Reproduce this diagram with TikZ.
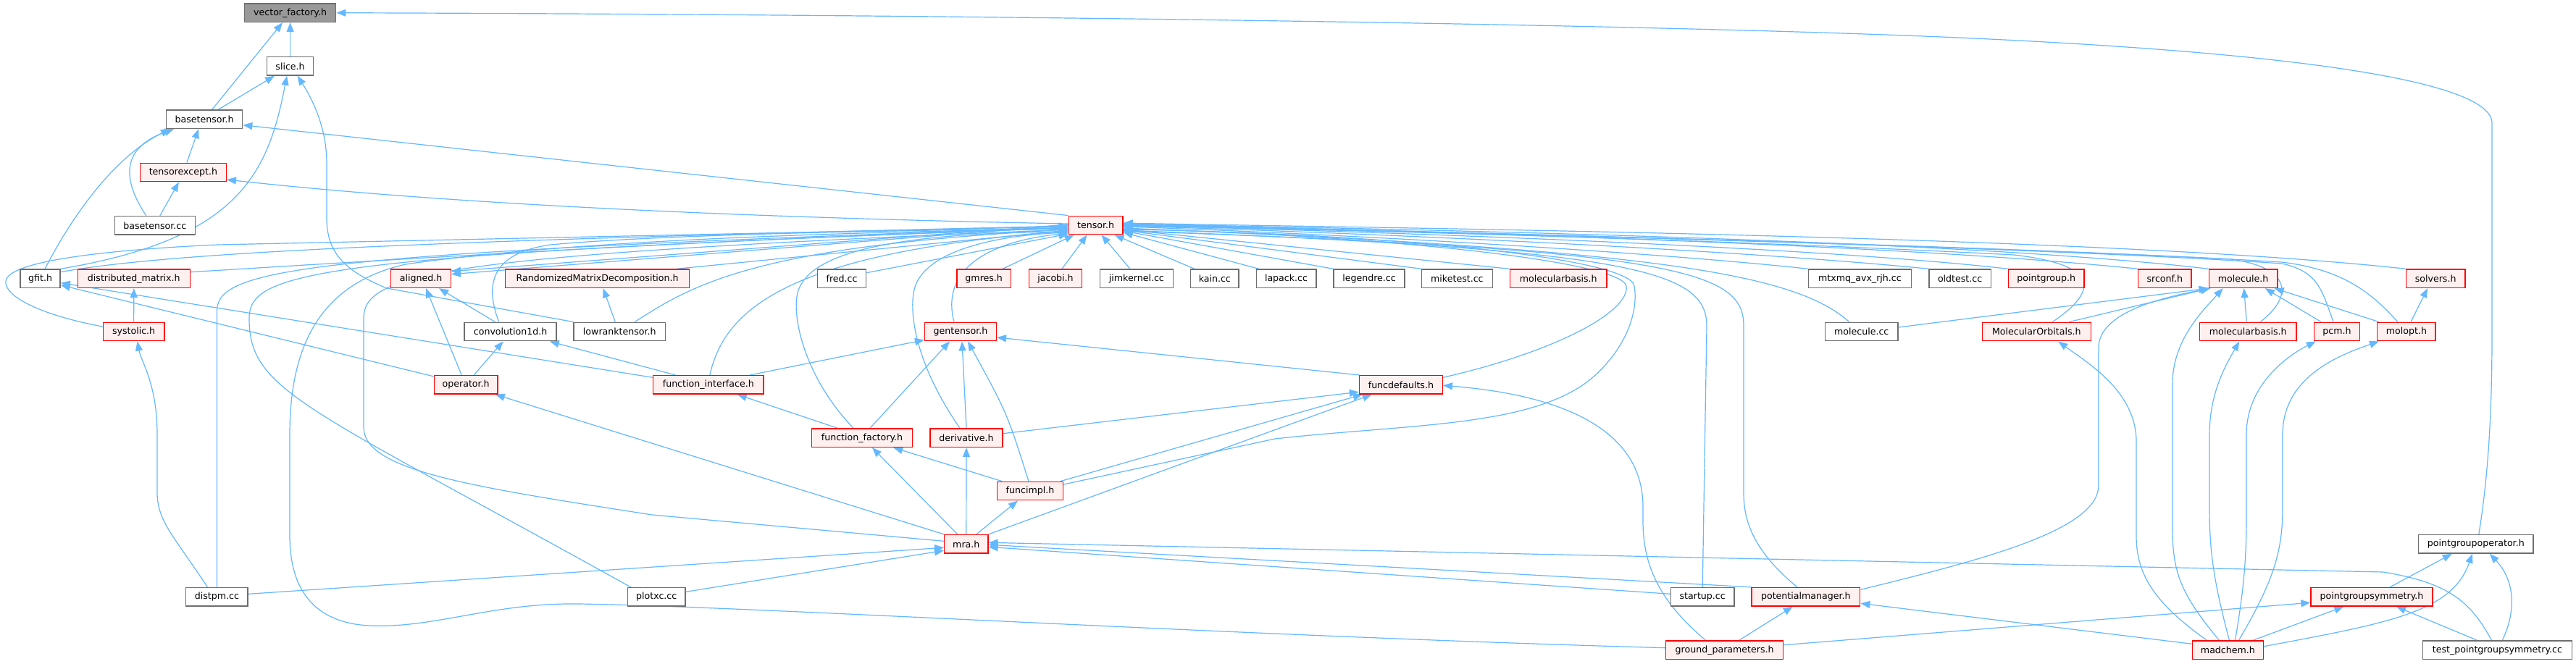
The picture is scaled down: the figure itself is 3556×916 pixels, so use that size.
\documentclass[tikz,border=0pt]{standalone}
\usepackage{fontspec}
\newfontfamily\dvs{DejaVu Sans}
\usetikzlibrary{arrows.meta,calc}
\definecolor{eblue}{HTML}{63B8FF}
\definecolor{nred}{HTML}{FF0000}
\definecolor{nfill}{HTML}{FFF0F0}
\definecolor{ngray}{HTML}{6E6E6E}
\definecolor{rootfill}{HTML}{999999}
\pgfdeclarelayer{bg}
\pgfsetlayers{bg,main}
\tikzset{
 base/.style={rectangle, draw, line width=1.4pt, minimum height=25.5pt, inner sep=0pt, font=\dvs\fontsize{12.6}{14}\selectfont, text=black},
 rnode/.style={base, draw=nred, fill=nfill},
 gnode/.style={base, draw=ngray, fill=white},
 root/.style={base, draw=ngray, fill=rootfill},
 edge/.style={draw=eblue, line width=1.2pt, -{Triangle[length=13pt,width=10pt]}},
}
\newcommand\dnode[6]{\node[#1,minimum width=#5pt] (#2) at (#3,#4) {#6};}
\begin{document}
\begin{tikzpicture}[x=1pt,y=-1pt]
\useasboundingbox (0,0) rectangle (3556,916);
% nodes
\dnode{root}{vf}{400.6}{17.7}{126.3}{vector\_factory.h}
\dnode{gnode}{slice}{400.6}{91.3}{64.3}{slice.h}
\dnode{gnode}{bt}{282.1}{164.7}{105}{basetensor.h}
\dnode{rnode}{te}{252.9}{238}{118.8}{tensorexcept.h}
\dnode{gnode}{btcc}{213.8}{311.3}{110.8}{basetensor.cc}
\dnode{rnode}{tensor}{1512.6}{311}{74.6}{tensor.h}
\dnode{gnode}{gfit}{55.6}{384.7}{55.1}{gfit.h}
\dnode{rnode}{dm}{184.8}{384.7}{155}{distributed\_matrix.h}
\dnode{rnode}{aligned}{581}{384.7}{82.7}{aligned.h}
\dnode{rnode}{rmd}{824.6}{384.7}{254.3}{RandomizedMatrixDecomposition.h}
\dnode{gnode}{fred}{1162.1}{384.7}{67.1}{fred.cc}
\dnode{rnode}{gmres}{1358.2}{384.7}{74.6}{gmres.h}
\dnode{rnode}{jacobi}{1457}{384.7}{73.5}{jacobi.h}
\dnode{gnode}{jim}{1568.9}{384.7}{101}{jimkernel.cc}
\dnode{gnode}{kain}{1676.8}{384.7}{66.6}{kain.cc}
\dnode{gnode}{lapack}{1775.5}{384.7}{82.6}{lapack.cc}
\dnode{gnode}{legendre}{1890}{384.7}{98.1}{legendre.cc}
\dnode{gnode}{miketest}{2011.4}{384.7}{97.6}{miketest.cc}
\dnode{rnode}{mbA}{2151.2}{384.7}{133.8}{molecularbasis.h}
\dnode{gnode}{mtxmq}{2567.4}{384.7}{141.8}{mtxmq\_avx\_rjh.cc}
\dnode{gnode}{oldtest}{2705.6}{384.7}{85.5}{oldtest.cc}
\dnode{rnode}{pg}{2824.7}{384.7}{104.5}{pointgroup.h}
\dnode{rnode}{srconf}{2988.3}{384.7}{73.5}{srconf.h}
\dnode{rnode}{mol}{3096.6}{384.7}{94.8}{molecule.h}
\dnode{rnode}{solvers}{3362.1}{384.7}{81.6}{solvers.h}
\dnode{rnode}{systolic}{184.6}{458}{84.4}{systolic.h}
\dnode{gnode}{conv}{704.6}{458}{126.9}{convolution1d.h}
\dnode{gnode}{lrt}{855.3}{458}{126.3}{lowranktensor.h}
\dnode{rnode}{gen}{1326}{458}{98.7}{gentensor.h}
\dnode{gnode}{mcc}{2569.7}{458}{100.5}{molecule.cc}
\dnode{rnode}{MO}{2811.3}{458}{149.8}{MolecularOrbitals.h}
\dnode{rnode}{mbB}{3103.2}{458}{133.2}{molecularbasis.h}
\dnode{rnode}{pcm}{3226}{458}{63.1}{pcm.h}
\dnode{rnode}{molopt}{3321.9}{458}{80.4}{molopt.h}
\dnode{rnode}{op}{643.2}{531.3}{87.8}{operator.h}
\dnode{rnode}{fi}{977.8}{531.3}{152.1}{function\_interface.h}
\dnode{rnode}{fd}{1933.9}{531.3}{114.8}{funcdefaults.h}
\dnode{rnode}{ff}{1190}{604.7}{139}{function\_factory.h}
\dnode{rnode}{der}{1334}{604.7}{99.9}{derivative.h}
\dnode{rnode}{funcimpl}{1422}{678}{90.7}{funcimpl.h}
\dnode{rnode}{mra}{1333.8}{751.3}{60.2}{mra.h}
\dnode{gnode}{pgo}{3417.8}{751.3}{158.4}{pointgroupoperator.h}
\dnode{gnode}{distpm}{299.4}{824.3}{85.5}{distpm.cc}
\dnode{gnode}{plotxc}{906.2}{824.3}{79.7}{plotxc.cc}
\dnode{gnode}{startup}{2350.2}{824.3}{87.3}{startup.cc}
\dnode{rnode}{pm}{2492.8}{824.3}{149.8}{potentialmanager.h}
\dnode{rnode}{pgs}{3274}{824.3}{168.1}{pointgroupsymmetry.h}
\dnode{rnode}{gp}{2380.6}{897.7}{161.9}{ground\_parameters.h}
\dnode{rnode}{madchem}{3075.4}{897.7}{98.1}{madchem.h}
\dnode{gnode}{test}{3447.4}{897.7}{206.1}{test\_pointgroupsymmetry.cc}
\begin{pgfonlayer}{bg}
\fill[white] (0,0) rectangle (3556,916);
% into vector_factory
\draw[edge] ($(bt.north)+(10.7,0)$) -- ($(vf.south)+(-10.6,0)$);
\draw[edge] (slice.north) -- (vf.south);
\draw[edge] ($(pgo.north)+(4,0)$) .. controls (3436,650) and (3440,560) .. (3440,460) -- (3440,170) .. controls (3440,110) and (3150,70) .. (2656,50) .. controls (2200,32) and (1300,20) .. (vf.east);
% into slice
\draw[edge] ($(bt.north)+(19.3,0)$) -- ($(slice.south)+(-21.6,0)$);
\draw[edge] (gfit.north east) .. controls (330,330) and (370,240) .. ($(slice.south)+(-4.6,0)$);
\draw[edge] (lrt.north west) -- (534,398) .. controls (470,372) and (451,345) .. (451,300) -- (451,225) .. controls (451,175) and (430,135) .. ($(slice.south)+(10,0)$);
% into basetensor
\draw[edge] ($(te.north)+(5,0)$) -- ($(bt.south)+(-8,0)$);
\draw[edge] ($(btcc.north)+(-12,0)$) .. controls (170,250) and (165,205) .. ($(bt.south)+(-42,0)$);
\draw[edge] ($(gfit.north)+(6.4,0)$) .. controls (120,260) and (180,205) .. ($(bt.south)+(-47,0)$);
\draw[edge] (tensor.north west) -- ($(bt.east)+(0,8)$);
% into tensorexcept
\draw[edge] ($(btcc.north)+(7,0)$) -- ($(te.south)+(-6,0)$);
\draw[edge] ($(tensor.west)+(0,-2)$) .. controls (1000,300) and (600,280) .. ($(te.east)+(0,10)$);
% into tensor, from the left
\draw[edge] ($(gfit.east)+(0,-9)$) .. controls (250,345) and (700,330) .. ($(tensor.west)+(0,1)$);
\draw[edge] ($(systolic.west)+(0,-7)$) .. controls (60,436) and (5,410) .. (8,388) .. controls (12,360) and (150,345) .. (300,338) -- ($(tensor.west)+(0,2)$);
\draw[edge] ($(dm.east)+(0,-9)$) .. controls (600,355) and (1000,330) .. ($(tensor.west)+(0,4)$);
\draw[edge] (distpm.north) -- (299.4,430) .. controls (299.4,370) and (420,350) .. ($(tensor.west)+(0,3)$);
\draw[edge] ($(plotxc.north west)+(5,0)$) .. controls (420,560) and (344,540) .. (344,440) .. controls (344,375) and (430,352) .. ($(tensor.west)+(0,4)$);
\draw[edge] ($(gp.west)+(0,-3)$) .. controls (1700,878) and (1050,838) .. (800,834) .. controls (680,832) and (600,868) .. (510,864) .. controls (430,860) and (400,810) .. (400,740) -- (400,600) .. controls (400,480) and (440,392) .. (560,365) .. controls (800,330) and (1200,320) .. ($(tensor.west)+(0,5)$);
\draw[edge] ($(mra.west)+(0,-4)$) -- (900,711) .. controls (650,672) and (502,650) .. (502,590) -- (502,440) .. controls (502,378) and (600,352) .. ($(tensor.west)+(0,6)$);
\draw[edge] ($(rmd.north east)+(-18,0)$) -- ($(tensor.west)+(0,7)$);
\draw[edge] ($(conv.north)+(-16,0)$) .. controls (670,395) and (675,350) .. (760,338) .. controls (900,325) and (1200,318) .. ($(tensor.west)+(0,5)$);
\draw[edge] ($(lrt.north)+(21,0)$) .. controls (960,390) and (1050,340) .. ($(tensor.west)+(0,6)$);
\draw[edge] ($(fi.north)+(2,0)$) .. controls (1000,430) and (1080,350) .. ($(tensor.west)+(0,8)$);
\draw[edge] ($(ff.north)+(-12,0)$) .. controls (1110,520) and (1095,440) .. (1100,410) .. controls (1108,345) and (1250,322) .. ($(tensor.west)+(0,9)$);
\draw[edge] ($(der.north)+(-9,0)$) .. controls (1262,500) and (1255,430) .. (1262,400) .. controls (1275,345) and (1380,325) .. ($(tensor.west)+(0,10)$);
\draw[edge] ($(gen.north)+(-9,0)$) .. controls (1300,380) and (1350,335) .. ($(tensor.west)+(0,11)$);
\draw[edge] ($(fred.east)+(0,-8)$) -- ($(tensor.west)+(0,12)$);
\draw[edge] ($(tensor.west)+(0,-1)$) -- ($(aligned.east)+(0,-10)$);
\draw[edge] ($(tensor.west)+(0,0)$) -- ($(aligned.east)+(0,-6)$);
% into tensor, from below
\draw[edge] ($(gmres.north east)+(-12,0)$) -- ($(tensor.south)+(-30,0)$);
\draw[edge] ($(jacobi.north)+(9,0)$) -- ($(tensor.south)+(-12,0)$);
\draw[edge] ($(jim.north)+(-9,0)$) -- ($(tensor.south)+(8,0)$);
\draw[edge] ($(kain.north west)+(6,0)$) -- ($(tensor.south)+(26,0)$);
% into tensor, from the right
\draw[edge] ($(lapack.north west)+(4,0)$) -- ($(tensor.east)+(0,10)$);
\draw[edge] (legendre.north west) -- ($(tensor.east)+(0,8)$);
\draw[edge] (miketest.north west) -- ($(tensor.east)+(0,7)$);
\draw[edge] (mbA.north west) -- ($(tensor.east)+(0,6)$);
\draw[edge] (mtxmq.north west) .. controls (2300,350) and (1900,325) .. ($(tensor.east)+(0,2)$);
\draw[edge] (oldtest.north west) .. controls (2400,345) and (1900,322) .. ($(tensor.east)+(0,1)$);
\draw[edge] (pg.north west) .. controls (2500,340) and (1900,320) .. ($(tensor.east)+(0,0)$);
\draw[edge] (srconf.north west) .. controls (2600,335) and (1900,318) .. ($(tensor.east)+(0,-1)$);
\draw[edge] (mol.north west) .. controls (2700,330) and (1900,316) .. ($(tensor.east)+(0,-2)$);
\draw[edge] (solvers.north west) .. controls (2900,325) and (1900,315) .. ($(tensor.east)+(0,-3)$);
\draw[edge] ($(mcc.north)+(-17,0)$) .. controls (2480,380) and (2300,345) .. ($(tensor.east)+(0,4)$);
\draw[edge] ($(MO.north)+(22,0)$) .. controls (2900,400) and (2895,365) .. (2780,352) .. controls (2400,332) and (1900,318) .. ($(tensor.east)+(0,1)$);
\draw[edge] ($(mbB.north)+(17,0)$) .. controls (3165,410) and (3165,370) .. (3080,358) .. controls (2700,338) and (1900,318) .. ($(tensor.east)+(0,0)$);
\draw[edge] ($(pcm.north)+(-5,0)$) .. controls (3205,400) and (3200,375) .. (3150,364) .. controls (2800,340) and (1900,318) .. ($(tensor.east)+(0,-1)$);
\draw[edge] ($(molopt.north)+(-12,0)$) .. controls (3270,400) and (3230,372) .. (3150,362) .. controls (2800,340) and (1900,318) .. ($(tensor.east)+(0,-2)$);
\draw[edge] ($(fd.east)+(0,-10)$) .. controls (2150,485) and (2250,430) .. (2245,395) .. controls (2238,360) and (1900,325) .. ($(tensor.east)+(0,5)$);
\draw[edge] ($(funcimpl.east)+(0,-9)$) -- (1760,606) .. controls (1950,585) and (2120,590) .. (2200,520) .. controls (2245,480) and (2262,430) .. (2256,395) .. controls (2250,355) and (1900,322) .. ($(tensor.east)+(0,6)$);
\draw[edge] (startup.north) -- (2356,450) .. controls (2356,372) and (2250,345) .. ($(tensor.east)+(0,7)$);
\draw[edge] ($(pm.north)+(-12,0)$) .. controls (2420,760) and (2407,720) .. (2407,680) -- (2407,450) .. controls (2407,375) and (2320,345) .. ($(tensor.east)+(0,8)$);
% left cluster
\draw[edge] (systolic.north) -- (dm.south);
\draw[edge] ($(distpm.north)+(-13,0)$) .. controls (240,740) and (217,720) .. (217,680) -- (217,600) .. controls (217,530) and (195,500) .. ($(systolic.south)+(5,0)$);
\draw[edge] ($(distpm.east)+(0,-4)$) -- ($(mra.west)+(0,5)$);
\draw[edge] ($(plotxc.east)+(0,-7)$) -- ($(mra.west)+(0,9)$);
\draw[edge] ($(op.north west)+(0,2)$) -- ($(gfit.east)+(0,9)$);
\draw[edge] ($(fi.west)+(0,-10)$) -- ($(gfit.east)+(0,6)$);
\draw[edge] ($(op.north)+(-6,0)$) -- ($(aligned.south)+(7,0)$);
\draw[edge] ($(op.north)+(11,0)$) -- ($(conv.south)+(-10,0)$);
\draw[edge] ($(conv.north)+(-21,0)$) -- ($(aligned.south)+(25,0)$);
\draw[edge] ($(lrt.north)+(-6,0)$) -- ($(rmd.south)+(8,0)$);
\draw[edge] ($(fi.north west)+(31,0)$) -- ($(conv.south east)+(-10,0)$);
\draw[edge] ($(fi.north east)+(-19,0)$) -- ($(gen.south west)+(0,-2)$);
\draw[edge] ($(ff.north)+(-34,0)$) -- ($(fi.south)+(40,0)$);
\draw[edge] ($(ff.north)+(11,0)$) -- ($(gen.south)+(-15,0)$);
\draw[edge] (der.north) -- ($(gen.south)+(2,0)$);
\draw[edge] ($(funcimpl.north)+(-2,0)$) .. controls (1390,570) .. ($(gen.south)+(10,0)$);
\draw[edge] ($(funcimpl.north west)+(7,0)$) -- ($(ff.south east)+(-27,0)$);
\draw[edge] ($(funcimpl.north east)+(-4,0)$) -- ($(fd.south west)+(5,0)$);
\draw[edge] ($(der.east)+(0,-6)$) -- ($(fd.west)+(0,10)$);
\draw[edge] (mra.north west) -- ($(op.south east)+(-4,0)$);
\draw[edge] ($(mra.north)+(-12,0)$) -- ($(ff.south)+(14,0)$);
\draw[edge] (mra.north) -- (der.south);
\draw[edge] ($(mra.north)+(14,0)$) -- ($(funcimpl.south)+(-17,0)$);
\draw[edge] (mra.north east) -- ($(fd.south west)+(18,0)$);
\draw[edge] (fd.north west) -- ($(gen.east)+(0,8)$);
% right cluster
\draw[edge] ($(gp.north)+(-26,0)$) .. controls (2290,830) and (2268,780) .. (2268,720) -- (2268,700) .. controls (2268,590) and (2150,545) .. ($(fd.east)+(0,1)$);
\draw[edge] ($(gp.north)+(20,0)$) -- ($(pm.south)+(-18,0)$);
\draw[edge] ($(gp.east)+(0,-7)$) -- ($(pgs.west)+(0,8)$);
\draw[edge] ($(startup.west)+(0,-4)$) -- ($(mra.east)+(0,4)$);
\draw[edge] (pm.north west) -- ($(mra.east)+(0,1)$);
\draw[edge] ($(test.north)+(-8,0)$) .. controls (3410,830) and (3380,805) .. (3290,790) -- ($(mra.east)+(0,-2)$);
\draw[edge] ($(pm.east)+(0,-10)$) .. controls (2750,770) and (2897,730) .. (2897,670) -- (2897,480) .. controls (2897,430) and (2990,410) .. ($(mol.south west)+(3,0)$);
\draw[edge] ($(madchem.north west)+(0,5)$) -- ($(pm.east)+(0,9)$);
\draw[edge] ($(madchem.north)+(-29,0)$) .. controls (2970,830) and (2949,790) .. (2949,740) -- (2949,610) .. controls (2949,540) and (2880,500) .. ($(MO.south)+(30,0)$);
\draw[edge] ($(madchem.north)+(-12,0)$) .. controls (3010,820) and (2999,790) .. (2999,730) -- (2999,530) .. controls (2999,470) and (3040,430) .. ($(mol.south)+(-28,0)$);
\draw[edge] ($(madchem.north)+(2,0)$) .. controls (3055,800) and (3050,760) .. (3050,700) -- (3050,600) .. controls (3050,540) and (3075,500) .. ($(mbB.south)+(-12,0)$);
\draw[edge] ($(madchem.north)+(10,0)$) .. controls (3100,800) and (3101,760) .. (3101,700) -- (3101,600) .. controls (3101,530) and (3160,490) .. ($(pcm.south west)+(3,0)$);
\draw[edge] ($(madchem.north)+(15,0)$) .. controls (3140,800) and (3151,760) .. (3151,700) -- (3151,600) .. controls (3151,520) and (3230,490) .. ($(molopt.south west)+(3,0)$);
\draw[edge] ($(madchem.east)+(0,-5)$) .. controls (3300,860) and (3385,845) .. ($(pgo.south)+(-5,0)$);
\draw[edge] ($(madchem.north east)+(-15,0)$) -- ($(pgs.south west)+(46,0)$);
\draw[edge] ($(pgs.north)+(25,0)$) -- ($(pgo.south)+(-33,0)$);
\draw[edge] ($(test.north)+(-28,0)$) -- ($(pgs.south)+(34,0)$);
\draw[edge] ($(test.north)+(7,0)$) .. controls (3475,840) and (3470,800) .. ($(pgo.south)+(19,0)$);
\draw[edge] ($(MO.north)+(45,0)$) -- ($(mol.south west)+(2,0)$);
\draw[edge] ($(mcc.east)+(0,-6)$) -- (mol.south west);
\draw[edge] ($(mbB.north)+(-2,0)$) -- ($(mol.south)+(1,0)$);
\draw[edge] ($(pcm.north)+(-22,0)$) -- ($(mol.south east)+(-18,0)$);
\draw[edge] ($(molopt.north west)+(3,0)$) -- ($(mol.south east)+(-5,0)$);
\draw[edge] ($(molopt.north)+(6,0)$) -- ($(solvers.south)+(-11,0)$);
\end{pgfonlayer}
\end{tikzpicture}
\end{document}
